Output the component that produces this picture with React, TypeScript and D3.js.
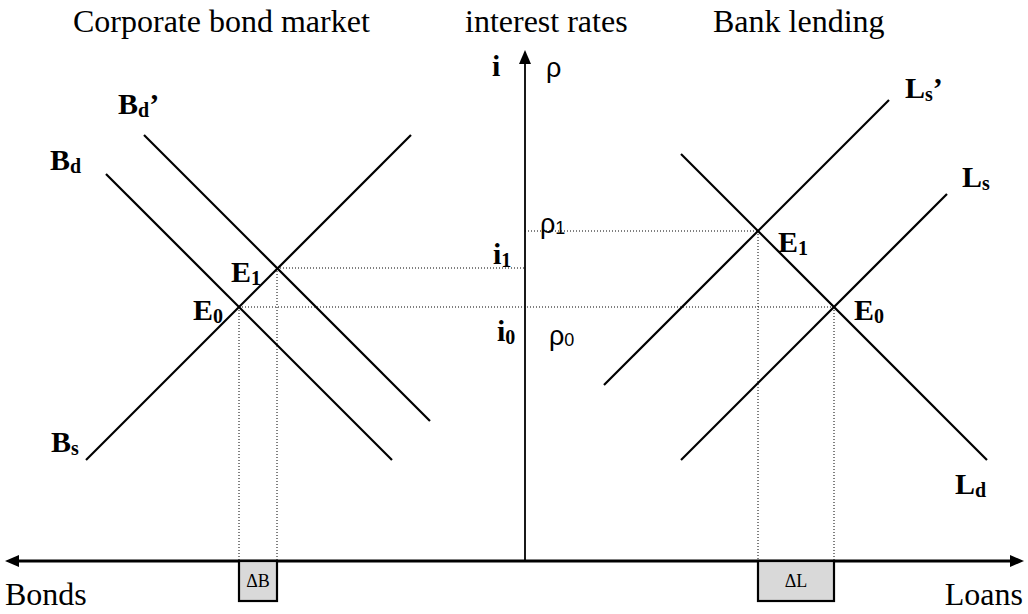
import * as d3 from 'd3';
import React from 'react';

// quantities are measured outward from the rate axis, rates upward from the quantity axis
const bondCurves = [
  { name: "Bd", pts: [[83.8, 77.4], [26.6, 20.2]] },
  { name: "Bd'", pts: [[76.2, 85.2], [19, 28]] },
  { name: "Bs", pts: [[87.8, 20.2], [22.8, 85.2]] },
];
const loanCurves = [
  { name: "Ld", pts: [[31.2, 81.4], [92.4, 20.2]] },
  { name: "Ls", pts: [[31.2, 20.2], [84.4, 73.4]] },
  { name: "Ls'", pts: [[15.8, 35.2], [72.8, 92.2]] },
];
// equilibria [quantity, rate]
const bondE0 = [57.2, 50.8];
const bondE1 = [49.6, 58.6];
const loanE0 = [61.8, 50.8];
const loanE1 = [46.6, 66];

const axisTop = 102.2;
const bondAxisEnd = 104;
const loanAxisEnd = 99.8;

const W = 1028, H = 614;

const App = () => {
  const y = d3.scaleLinear().domain([0, 100]).range([561, 61]);
  const xB = d3.scaleLinear().domain([0, 100]).range([525, 25]);
  const xL = d3.scaleLinear().domain([0, 100]).range([525, 1025]);

  const lineB = d3.line<number[]>().x(d => xB(d[0])).y(d => y(d[1]));
  const lineL = d3.line<number[]>().x(d => xL(d[0])).y(d => y(d[1]));

  const x0 = xB(0), y0 = y(0);
  const dot = { stroke: "#000", strokeWidth: 1, strokeDasharray: "1,2", fill: "none" };
  const serif = "'Liberation Serif', 'Times New Roman', serif";
  const sans = "'Liberation Sans', Arial, sans-serif";

  // bold label with subscript and optional prime
  const Lab = ({ x, yy, main, sub, prime }: any) => (
    <text x={x} y={yy} fontFamily={serif} fontWeight="bold" fontSize={30}>
      {main}
      <tspan fontSize={20} dy={3}>{sub}</tspan>
      {prime ? <tspan dy={-3}>’</tspan> : null}
    </text>
  );

  const leftEnd = xB(bondAxisEnd), rightEnd = xL(loanAxisEnd), topY = y(axisTop);

  return (
    <div style={{ position: 'absolute', left: 0, top: 0 }}>
      <svg width={W} height={H} style={{ display: 'block', background: '#fff' }}>
        {/* titles */}
        <g fontFamily={serif} fontSize={32}>
          <text x={73} y={32}>Corporate bond market</text>
          <text x={465} y={32}>interest rates</text>
          <text x={713} y={32}>Bank lending</text>
        </g>

        {/* dotted guides */}
        <line x1={xB(bondE1[0])} x2={x0} y1={y(bondE1[1])} y2={y(bondE1[1])} style={dot} />
        <line x1={xB(bondE0[0])} x2={xL(loanE0[0])} y1={y(bondE0[1])} y2={y(bondE0[1])} style={dot} />
        <line x1={x0} x2={xL(loanE1[0])} y1={y(loanE1[1])} y2={y(loanE1[1])} style={dot} />
        {[[xB, bondE0], [xB, bondE1], [xL, loanE0], [xL, loanE1]].map(([sc, e]: any, i) => (
          <line key={i} x1={sc(e[0])} x2={sc(e[0])} y1={y(e[1])} y2={y0} style={dot} />
        ))}

        {/* curves */}
        {bondCurves.map(c => (
          <path key={c.name} d={lineB(c.pts) || ''} stroke="#000" strokeWidth={2.2} fill="none" />
        ))}
        {loanCurves.map(c => (
          <path key={c.name} d={lineL(c.pts) || ''} stroke="#000" strokeWidth={2.2} fill="none" />
        ))}

        {/* axes */}
        <line x1={x0} x2={x0} y1={y0} y2={topY + 12} stroke="#000" strokeWidth={1.8} />
        <path d={`M${x0},${topY} L${x0 - 6},${topY + 14} L${x0 + 6},${topY + 14} Z`} fill="#000" />
        <line x1={leftEnd + 10} x2={rightEnd - 10} y1={y0} y2={y0} stroke="#000" strokeWidth={2.8} />
        <path d={`M${leftEnd},${y0} L${leftEnd + 14},${y0 - 6} L${leftEnd + 14},${y0 + 6} Z`} fill="#000" />
        <path d={`M${rightEnd},${y0} L${rightEnd - 14},${y0 - 6} L${rightEnd - 14},${y0 + 6} Z`} fill="#000" />

        {/* delta boxes */}
        <rect x={xB(bondE0[0])} y={y0} width={xB(bondE1[0]) - xB(bondE0[0])} height={40}
          fill="#d9d9d9" stroke="#000" strokeWidth={2.2} />
        <text x={(xB(bondE0[0]) + xB(bondE1[0])) / 2} y={587} textAnchor="middle" fontFamily={serif} fontSize={18}>ΔB</text>
        <rect x={xL(loanE1[0])} y={y0} width={xL(loanE0[0]) - xL(loanE1[0])} height={40}
          fill="#d9d9d9" stroke="#000" strokeWidth={2.2} />
        <text x={(xL(loanE0[0]) + xL(loanE1[0])) / 2} y={587} textAnchor="middle" fontFamily={serif} fontSize={18}>ΔL</text>

        {/* curve labels */}
        <Lab x={118} yy={114} main="B" sub="d" prime />
        <Lab x={50} yy={170} main="B" sub="d" />
        <Lab x={51} yy={452} main="B" sub="s" />
        <Lab x={231} yy={282} main="E" sub="1" />
        <Lab x={193} yy={320} main="E" sub="0" />
        <Lab x={905} yy={98} main="L" sub="s" prime />
        <Lab x={962} yy={187} main="L" sub="s" />
        <Lab x={778} yy={252} main="E" sub="1" />
        <Lab x={854} yy={320} main="E" sub="0" />
        <Lab x={955} yy={494} main="L" sub="d" />

        {/* rate labels */}
        <text x={492} y={76} fontFamily={serif} fontWeight="bold" fontSize={30}>i</text>
        <text x={546} y={77} fontFamily={sans} fontSize={27}>ρ</text>
        <Lab x={493} yy={264} main="i" sub="1" />
        <Lab x={497} yy={341} main="i" sub="0" />
        <text x={540} y={233} fontFamily={sans} fontSize={27}>ρ<tspan fontSize={18} dy={1}>1</tspan></text>
        <text x={549} y={345} fontFamily={sans} fontSize={27}>ρ<tspan fontSize={18} dy={1}>0</tspan></text>

        {/* quantity labels */}
        <text x={5} y={605} fontFamily={serif} fontSize={32}>Bonds</text>
        <text x={1023} y={605} textAnchor="end" fontFamily={serif} fontSize={32}>Loans</text>
      </svg>
    </div>
  );
};

export default App;
